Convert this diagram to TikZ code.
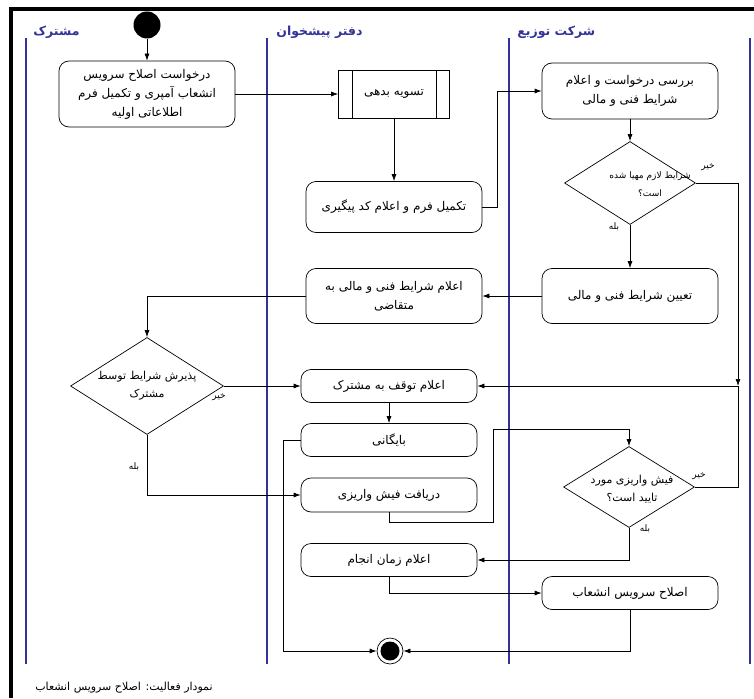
\documentclass[tikz,border=0pt]{standalone}
\usepackage{fontspec}
\newfontfamily\arabicfont[Script=Arabic]{DejaVu Sans}
\TeXXeTstate=1
\usetikzlibrary{arrows.meta,shapes.geometric}
\definecolor{lanecol}{RGB}{51,51,153}
\newcommand{\fa}[1]{\beginR #1\endR}
\begin{document}
\begin{tikzpicture}[x=1pt,y=-1pt,line width=0.7pt,
	txt/.style={font=\arabicfont\fontsize{12}{19}\selectfont, align=center},
	dtxt/.style={font=\arabicfont\fontsize{11}{18}\selectfont, align=center, inner sep=0pt},
	act/.style={txt, draw, rounded corners=10pt, minimum width=176pt, inner sep=0pt},
	sub/.style={txt, draw, minimum width=111pt, minimum height=48pt, inner sep=0pt},
	dec/.style={draw, diamond, inner sep=0pt},
	endst/.style={circle, draw, fill=white, minimum size=26pt, inner sep=0pt,
		path picture={\fill[black] (path picture bounding box.center) circle (9.5pt);}},
	lbl/.style={font=\arabicfont\fontsize{9}{10}\selectfont, inner sep=0pt},
	title/.style={font=\arabicfont\bfseries\fontsize{12.5}{14}\selectfont, text=lanecol, anchor=west, inner sep=0pt},
	arr/.style={-{Latex[length=7pt,width=5pt]}}]
			\useasboundingbox (0,0) rectangle (754,698);
			\draw[line width=4pt] (754,9) -- (11,9) -- (11,698);
			\foreach \x in {26,267,509,750}
			{	\draw[lanecol, line width=1.5pt] (\x,38) -- (\x,664);
			}
			\node[title] (t1) at (33,32)  {\fa{مشترک}};
			\node[title] (t2) at (276,32) {\fa{دفتر پیشخوان}};
			\node[title] (t3) at (517,32) {\fa{شرکت توزیع}};
			%
			\node[fill, circle, minimum size=27pt, inner sep=0pt] (start) at (147,25) {};
			\node[act, minimum height=66pt] (req)   at (147,94)  {\fa{درخواست اصلاح سرویس}\\\fa{انشعاب آمپری و تکمیل فرم}\\\fa{اطلاعاتی اولیه}};
			\node[sub]                      (debt)  at (394,94)  {\fa{تسویه بدهی}};
			\node[act, minimum height=51pt] (form)  at (394,207) {\fa{تکمیل فرم و اعلام کد پیگیری}};
			\node[act, minimum height=56pt] (check) at (630,91)  {\fa{بررسی درخواست و اعلام}\\\fa{شرایط فنی و مالی}};
			\node[dec, minimum width=131pt, minimum height=83pt] (ok) at (630,183) {};
			\node[act, minimum height=55pt] (set)   at (630,296) {\fa{تعیین شرایط فنی و مالی}};
			\node[act, minimum height=55pt] (tell)  at (394,296) {\fa{اعلام شرایط فنی و مالی به}\\\fa{متقاضی}};
			\node[dec, minimum width=153pt, minimum height=97pt] (accept) at (147,386) {};
			\node[act, minimum height=33pt] (stop)  at (389,386) {\fa{اعلام توقف به مشترک}};
			\node[act, minimum height=33pt] (arch)  at (389,440) {\fa{بایگانی}};
			\node[act, minimum height=34pt] (slip)  at (389,495) {\fa{دریافت فیش واریزی}};
			\node[dec, minimum width=131pt, minimum height=81pt] (paid) at (629,487) {};
			\node[act, minimum height=33pt] (date)  at (389,560) {\fa{اعلام زمان انجام}};
			\node[act, minimum height=33pt] (fix)   at (630,593) {\fa{اصلاح سرویس انشعاب}};
			\node[endst] (end) at (390,651) {};
			\coordinate (join) at (738,386);
			\draw ([xshift=14pt]debt.north west) -- ([xshift=14pt]debt.south west);
			\draw ([xshift=-14pt]debt.north east) -- ([xshift=-14pt]debt.south east);
			% questions in the diamonds
			\node[dtxt, font=\arabicfont\fontsize{9}{18}\selectfont] (ok-q) at (650,184) {\fa{شرایط لازم مهیا شده}\\\fa{است؟}};
			\node[dtxt] (accept-q) at (147,386) {\fa{پذیرش شرایط توسط}\\\fa{مشترک}};
			\node[dtxt] (paid-q)   at (632,489) {\fa{فیش واریزی مورد}\\\fa{تایید است؟}};
			%
			\def\straight {start/req, req/debt, debt/form, check/ok, ok/set, set/tell, accept/stop, stop/arch}  % aligned pairs
			\foreach \u/\v in \straight
			{	\draw[arr] (\u) -- (\v);
			}
			\draw[arr] (form.east) -- ++(15,0) |- (check.west);
			\draw[arr] (ok.east) -| (join);
			\draw (paid.east) -| (join);
			\draw[arr] (join) -- (stop.east);
			\draw[arr] (tell.west) -| (accept.north);
			\draw[arr] (arch.west) -- ++(-17,0) |- (end.west);
			\draw[arr] (accept.south) |- (slip.west);
			\draw[arr] (slip.south) -- ++(0,10) -| ++(104,-93) -| (paid.north);
			\draw[arr] (paid.south) |- (date.east);
			\draw[arr] (date.south) |- (fix.west);
			\draw[arr] (fix.south) |- (end.east);
			%
			\node[lbl] (ok-no)    at (708,167) {\fa{خیر}};
			\node[lbl] (ok-yes)   at (614,227) {\fa{بله}};
			\node[lbl] (paid-no)  at (699,476) {\fa{خیر}};
			\node[lbl] (paid-yes) at (645,529) {\fa{بله}};
			\node[lbl] (acc-no)   at (219,397) {\fa{خیر}};
			\node[lbl] (acc-yes)  at (134,467) {\fa{بله}};
			\node[lbl, anchor=west, font=\arabicfont\fontsize{11}{12}\selectfont] (cap) at (35,688) {\fa{نمودار فعالیت: اصلاح سرویس انشعاب}};
		\end{tikzpicture}
\end{document}
